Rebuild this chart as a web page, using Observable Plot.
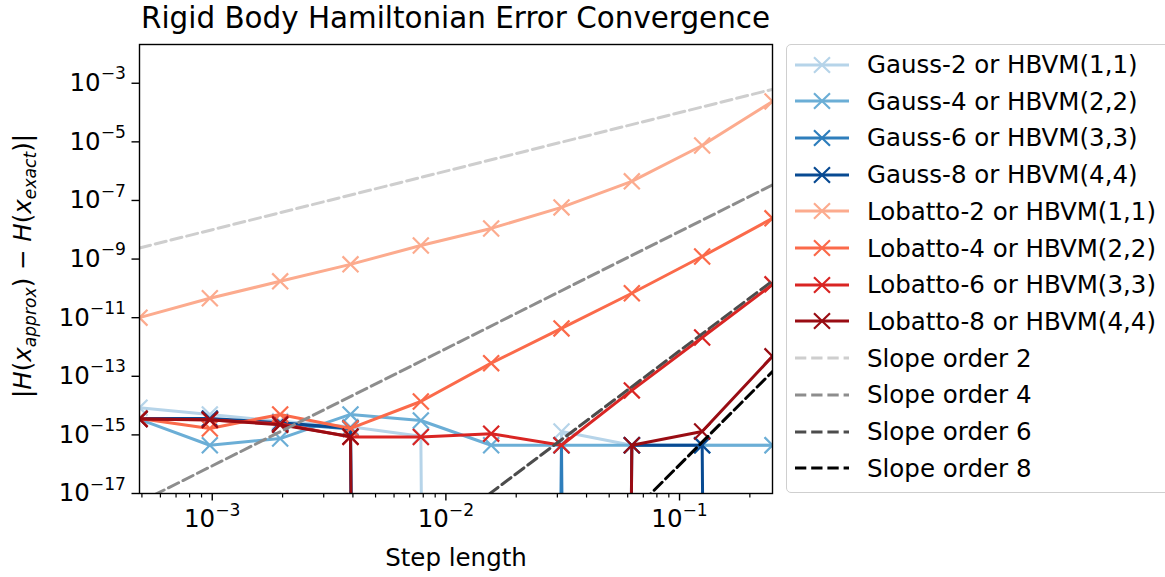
<!DOCTYPE html>
<html>
<head>
<meta charset="utf-8">
<script src="https://cdn.jsdelivr.net/npm/d3@7"></script>
<script src="https://cdn.jsdelivr.net/npm/@observablehq/plot@0.6"></script>
<style>
  html, body { margin: 0; padding: 0; background: #fff; overflow: hidden; }
  #wrap { position: relative; width: 1165px; height: 577px; font-family: "DejaVu Sans", sans-serif; color: #000; }
  #chart { position: absolute; left: 0; top: 0; }
  #title { position: absolute; left: 139px; width: 633px; top: 1px; text-align: center; font-size: 29.4px; white-space: nowrap; }
  #legend { position: absolute; left: 786px; top: 44px; width: 420px; height: 449px; border: 1.5px solid #cfcfcf; border-radius: 5px; box-sizing: border-box; background: #fff; }
  .entry { position: absolute; left: 0; height: 30px; display: flex; align-items: center; font-size: 24.5px; white-space: nowrap; }
  .entry svg { margin-left: 8px; margin-right: 18px; }
</style>
</head>
<body>
<div id="wrap">
  <div id="chart"></div>
  <div id="title">Rigid Body Hamiltonian Error Convergence</div>
  <div id="legend"></div>
</div>
<script>
// ---- data ----
const stepLengths = [0.00048828125, 0.0009765625, 0.001953125, 0.00390625, 0.0078125, 0.015625, 0.03125, 0.0625, 0.125, 0.25];

const methodNames = [
  "Gauss-2 or HBVM(1,1)", "Gauss-4 or HBVM(2,2)", "Gauss-6 or HBVM(3,3)", "Gauss-8 or HBVM(4,4)",
  "Lobatto-2 or HBVM(1,1)", "Lobatto-4 or HBVM(2,2)", "Lobatto-6 or HBVM(3,3)", "Lobatto-8 or HBVM(4,4)"
];
const methodColors = ["#b6d4e9", "#6baed6", "#2e7ebc", "#084a92", "#fcab8e", "#fb6a4a", "#d92523", "#990c13"];

// |H(x_approx) - H(x_exact)| per step length (0 = exact, clipped like matplotlib's log axis)
const gauss2Err   = [8.5e-15, 5.0e-15, 2.9e-15, 1.9e-15, 9.0e-16, 0, 1.3e-15, 4.44e-16, 4.44e-16, 4.44e-16];
const gauss4Err   = [3.4e-15, 4.44e-16, 7.5e-16, 5.0e-15, 3.1e-15, 4.44e-16, 4.44e-16, 4.44e-16, 4.44e-16, 4.44e-16];
const gauss6Err   = [3.6e-15, 3.4e-15, 2.5e-15, 1.6e-15, 0, 0, 4.44e-16, 0, 0, 0];
const gauss8Err   = [3.6e-15, 3.6e-15, 2.6e-15, 1.7e-15, 0, 0, 0, 4.44e-16, 4.44e-16, 0];
const lobatto2Err = [1.0e-11, 4.6e-11, 1.74e-10, 6.6e-10, 2.9e-9, 1.11e-8, 5.8e-8, 4.5e-7, 7.5e-6, 2.4e-4];
const lobatto4Err = [3.6e-15, 1.66e-15, 5.0e-15, 1.66e-15, 1.38e-14, 2.8e-13, 4.3e-12, 6.8e-11, 1.22e-9, 2.45e-8];
const lobatto6Err = [3.5e-15, 3.2e-15, 2.4e-15, 8.5e-16, 8.5e-16, 1.1e-15, 4.44e-16, 3.3e-14, 2.1e-12, 1.37e-10];
const lobatto8Err = [3.5e-15, 3.3e-15, 2.2e-15, 8.8e-16, 0, 0, 0, 4.44e-16, 1.3e-15, 4.8e-13];
const methodErrors = [gauss2Err, gauss4Err, gauss6Err, gauss8Err, lobatto2Err, lobatto4Err, lobatto6Err, lobatto8Err];

// reference slope lines: values at the first and the last step length
const slopeNames = ["Slope order 2", "Slope order 4", "Slope order 6", "Slope order 8"];
const slopeColors = ["#cecece", "#8d8d8d", "#4c4c4c", "#000000"];
const slopeStart = [2.4e-9, 5.0e-18, 1.0e-26, 3.1e-35];
const slopeEnd   = [6.2e-4, 3.4e-7, 1.8e-10, 1.45e-13];

// axis ticks
const xMajorTicks = [1e-3, 1e-2, 1e-1];
const xMinorTicks = [5e-4, 6e-4, 7e-4, 8e-4, 9e-4, 2e-3, 3e-3, 4e-3, 5e-3, 6e-3, 7e-3, 8e-3, 9e-3,
                     2e-2, 3e-2, 4e-2, 5e-2, 6e-2, 7e-2, 8e-2, 9e-2, 2e-1];
const yMajorTicks = [1e-17, 1e-15, 1e-13, 1e-11, 1e-9, 1e-7, 1e-5, 1e-3];

// ---- build tables for the library ----
const methodRows = methodNames.map((name, k) =>
  stepLengths.map((h, i) => ({method: name, h, err: methodErrors[k][i]})));
const slopeRows = slopeNames.map((name, k) => [
  {method: name, h: stepLengths[0], err: slopeStart[k]},
  {method: name, h: stepLengths[stepLengths.length - 1], err: slopeEnd[k]}
]);

// matplotlib clips non-positive values on a log axis to a tiny value: lines dive off the bottom
const yOf = d => (d.err > 0 ? d.err : 1e-300);

const marks = [];
methodRows.forEach((rows, k) => {
  marks.push(Plot.line(rows, {x: "h", y: yOf, stroke: methodColors[k], strokeWidth: 3, clip: true, strokeLinejoin: "round", strokeLinecap: "butt"}));
  marks.push(Plot.dot(rows, {x: "h", y: yOf, symbol: "times", r: 7.3, stroke: methodColors[k], strokeWidth: 2.2, clip: true}));
});
slopeRows.forEach((rows, k) => {
  marks.push(Plot.line(rows, {x: "h", y: "err", stroke: slopeColors[k], strokeWidth: 3, strokeDasharray: "11.3,4.9", clip: true}));
});

const expLabel = d => `10^${Math.round(Math.log10(d))}`;

const chart = Plot.plot({
  width: 1165,
  height: 577,
  marginLeft: 139,
  marginRight: 393,
  marginTop: 44,
  marginBottom: 84,
  style: {fontFamily: "DejaVu Sans, sans-serif", fontSize: "24.5px", background: "transparent", color: "#000", overflow: "visible"},
  x: {type: "log", domain: [stepLengths[0], stepLengths[stepLengths.length - 1]]},
  y: {type: "log", domain: [1e-17, 2.1e-2]},
  marks: [
    ...marks,
    Plot.frame({stroke: "#000", strokeWidth: 1.4}),
    Plot.axisX({ticks: xMinorTicks, tickSize: 4.5, tickFormat: () => "", strokeWidth: 1.2, label: null}),
    Plot.axisX({ticks: xMajorTicks, tickSize: 7.5, tickPadding: 9, strokeWidth: 1.4, tickFormat: expLabel,
                label: "Step length", labelAnchor: "center", labelArrow: "none", labelOffset: 72}),
    Plot.axisY({ticks: yMajorTicks, tickSize: 7.5, tickPadding: 6, strokeWidth: 1.4, tickFormat: expLabel, label: null})
  ]
});

// mathtext-like superscripts on tick labels
d3.select(chart).selectAll("text").each(function () {
  const t = d3.select(this);
  if (t.selectAll("tspan").size() > 0) return;
  const m = /^10\^(-?\d+)$/.exec(t.text());
  if (!m) return;
  t.text("10");
  t.append("tspan").attr("font-size", "0.7em").attr("dy", "-0.68em").text(m[1].replace("-", "\u2212"));
});

// y-axis label |H(x_approx) - H(x_exact)|
const yl = d3.select(chart).append("text")
  .attr("transform", "translate(31,266) rotate(-90)")
  .attr("text-anchor", "middle")
  .attr("font-size", 24.5)
  .attr("font-family", "DejaVu Sans, sans-serif")
  .attr("fill", "#000");
const parts = [
  ["|", "normal", 0], ["H", "italic", 0], ["(", "normal", 0], ["x", "italic", 0],
  ["approx", "italic", 1], [")", "normal", -1], [" \u2212 ", "normal", 0], ["H", "italic", 0],
  ["(", "normal", 0], ["x", "italic", 0], ["exact", "italic", 1], [")", "normal", -1], ["|", "normal", 0]
];
parts.forEach(([s, style, sub]) => {
  const ts = yl.append("tspan").attr("font-style", style).text(s);
  if (sub === 1) ts.attr("font-size", "0.7em").attr("dy", "0.3em");
  if (sub === -1) ts.attr("dy", "-0.21em");
});

document.getElementById("chart").appendChild(chart);

// ---- legend ----
const legend = document.getElementById("legend");
const entryNames = [...methodNames, ...slopeNames];
entryNames.forEach((name, i) => {
  const div = document.createElement("div");
  div.className = "entry";
  div.style.top = (21 + 36.7 * i - 15 - 1.5) + "px";
  const isSlope = i >= methodNames.length;
  const color = isSlope ? slopeColors[i - methodNames.length] : methodColors[i];
  const sw = d3.create("svg").attr("width", 54).attr("height", 30);
  sw.append("line").attr("x1", 0).attr("x2", 54).attr("y1", 15).attr("y2", 15)
    .attr("stroke", color).attr("stroke-width", 3)
    .attr("stroke-dasharray", isSlope ? "11.3,4.9" : null);
  if (!isSlope) {
    sw.append("path").attr("d", "M19,7.3L35,22.7M19,22.7L35,7.3").attr("stroke", color).attr("stroke-width", 2.2).attr("fill", "none");
  }
  div.appendChild(sw.node());
  const span = document.createElement("span");
  span.textContent = name;
  div.appendChild(span);
  legend.appendChild(div);
});
</script>
</body>
</html>
